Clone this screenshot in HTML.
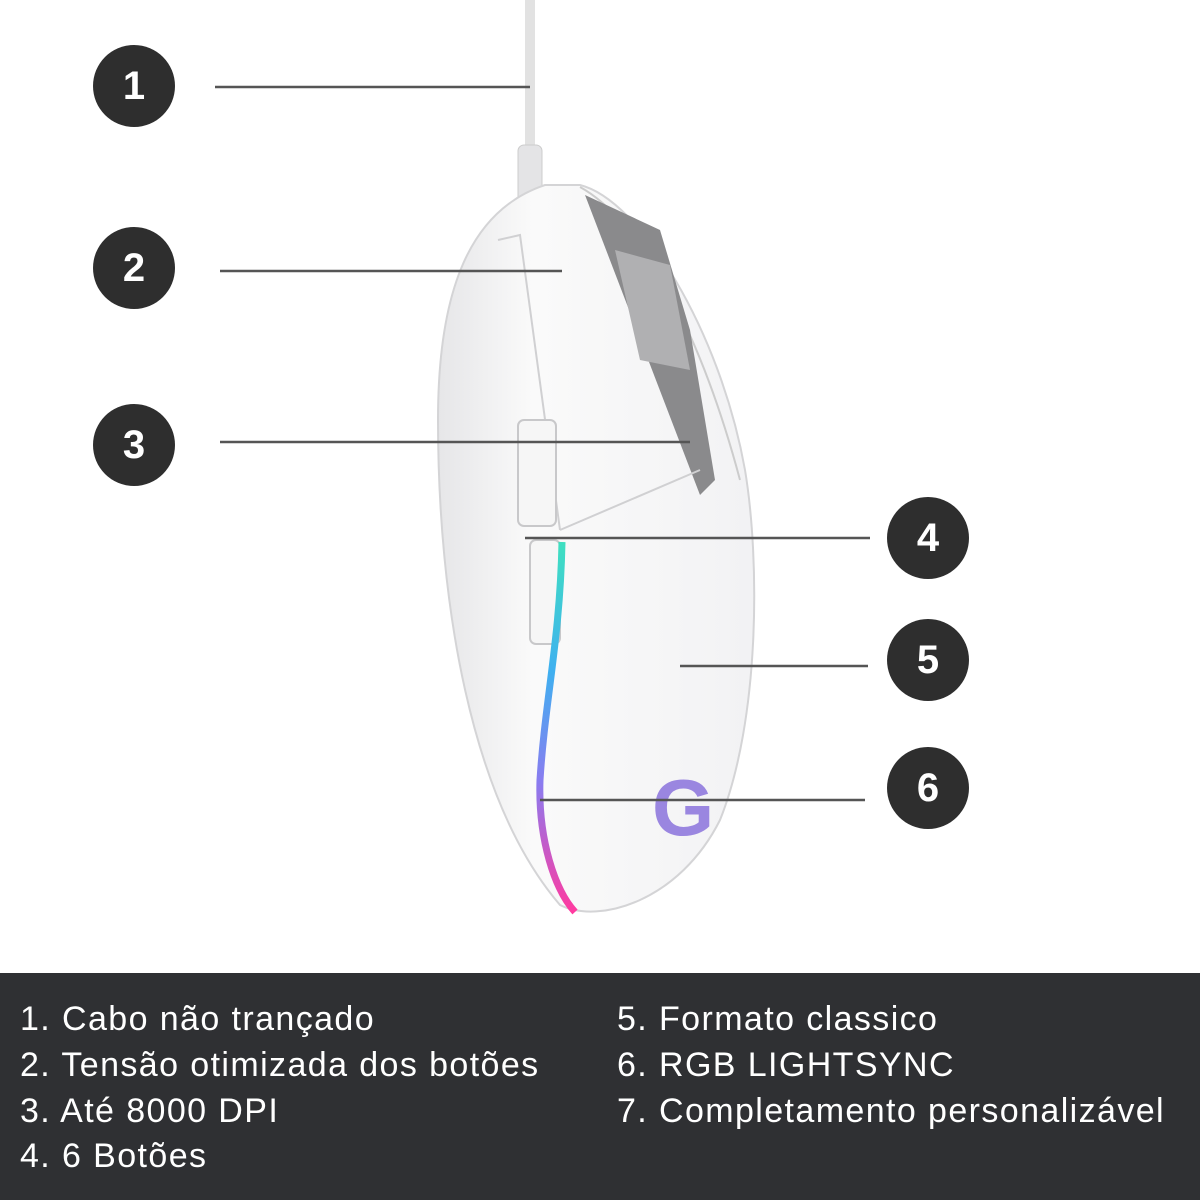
<!DOCTYPE html>
<html><head><meta charset="utf-8"><style>
body{margin:0;width:1200px;height:1200px;background:#fff;position:relative;overflow:hidden;font-family:"Liberation Sans",sans-serif}
.c{position:absolute;width:82px;height:82px;border-radius:50%;background:#2e2e2e;color:#fff;font-size:40px;font-weight:bold;text-align:center;line-height:82px}
.bar{position:absolute;left:0;top:973px;width:1200px;height:227px;background:#2f3033;color:#fff;font-size:34px;letter-spacing:1.4px}
.bar div{position:absolute;white-space:nowrap}
</style></head><body>
<svg width="1200" height="972" style="position:absolute;left:0;top:0">
<defs>
<linearGradient id="rgb" x1="0" y1="0" x2="0" y2="1">
<stop offset="0" stop-color="#3fe0c0"/><stop offset="0.35" stop-color="#3fb0f0"/><stop offset="0.65" stop-color="#8a7cf0"/><stop offset="1" stop-color="#ff3aa0"/></linearGradient>
<linearGradient id="body" x1="0" y1="0" x2="1" y2="0"><stop offset="0" stop-color="#e6e6e8"/><stop offset="0.3" stop-color="#fafafa"/><stop offset="1" stop-color="#f2f2f4"/></linearGradient>
</defs>
<path d="M530 0 L530 150" stroke="#e2e2e2" stroke-width="10"/>
<rect x="518" y="145" width="24" height="60" rx="6" fill="#e4e4e6" stroke="#ccc"/>
<path d="M545 185 C470 210 438 290 438 420 C438 600 470 800 560 905 C600 925 680 900 720 820 C760 720 760 560 745 470 C720 330 640 200 580 185 Z" fill="url(#body)" stroke="#d4d4d6" stroke-width="2"/>
<path d="M580 187 C640 220 700 330 740 480" fill="none" stroke="#ccc" stroke-width="2"/>
<path d="M585 195 L660 230 L690 330 L715 480 L700 495 Z" fill="#8a8a8c"/>
<path d="M615 250 L670 265 L690 370 L640 360 Z" fill="#b0b0b2"/>
<path d="M498 240 L520 235 L560 530" fill="none" stroke="#d0d0d2" stroke-width="2"/>
<path d="M560 530 L700 470" fill="none" stroke="#d0d0d2" stroke-width="2"/>
<rect x="518" y="420" width="38" height="106" rx="6" fill="#f6f6f6" stroke="#c8c8ca" stroke-width="2"/>
<rect x="530" y="540" width="30" height="104" rx="6" fill="#f6f6f6" stroke="#c8c8ca" stroke-width="2"/>
<path d="M562 542 C560 640 545 700 540 780 C538 840 555 890 575 912" fill="none" stroke="url(#rgb)" stroke-width="7"/>
<text x="652" y="835" font-family="Liberation Sans" font-size="80" font-weight="bold" fill="#9a86e0">G</text>
<g stroke="#555" stroke-width="2.5">
<line x1="215" y1="87" x2="530" y2="87"/>
<line x1="220" y1="271" x2="562" y2="271"/>
<line x1="220" y1="442" x2="690" y2="442"/>
<line x1="525" y1="538" x2="870" y2="538"/>
<line x1="680" y1="666" x2="868" y2="666"/>
<line x1="540" y1="800" x2="865" y2="800"/>
</g>
</svg>
<div class="c" style="left:93px;top:45px">1</div>
<div class="c" style="left:93px;top:227px">2</div>
<div class="c" style="left:93px;top:404px">3</div>
<div class="c" style="left:887px;top:497px">4</div>
<div class="c" style="left:887px;top:619px">5</div>
<div class="c" style="left:887px;top:747px">6</div>
<div class="bar">
<div style="left:20px;top:27px">1. Cabo não trançado</div>
<div style="left:20px;top:73px">2. Tensão otimizada dos botões</div>
<div style="left:20px;top:119px">3. Até 8000 DPI</div>
<div style="left:20px;top:164px">4. 6 Botões</div>
<div style="left:617px;top:27px">5. Formato classico</div>
<div style="left:617px;top:73px">6. RGB LIGHTSYNC</div>
<div style="left:617px;top:119px">7. Completamento personalizável</div>
</div>
</body></html>
